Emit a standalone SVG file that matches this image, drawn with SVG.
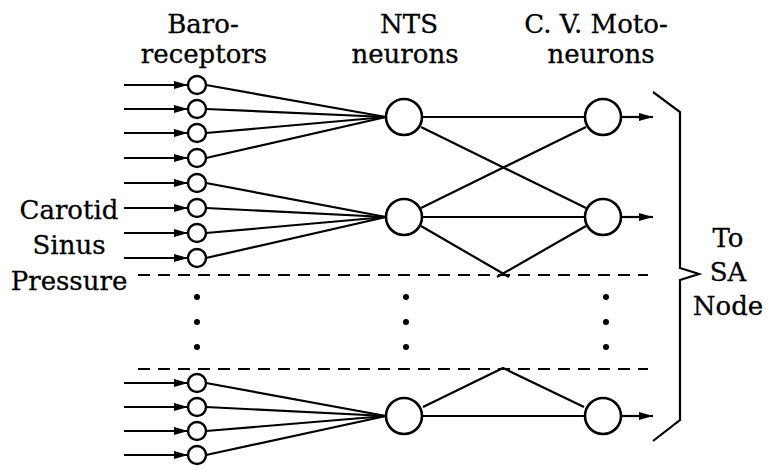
<svg xmlns="http://www.w3.org/2000/svg" width="771" height="470" viewBox="0 0 771 470">
  <defs>
    <marker id="arrow" markerWidth="14" markerHeight="10" refX="14" refY="5" orient="auto" markerUnits="userSpaceOnUse">
      <path d="M0,1 L14,5 L0,9 Z" fill="#000"/>
    </marker>
    <style>
      .lbl { font-family: "DejaVu Serif", "Liberation Serif", "Times New Roman", serif; font-size: 26px; fill: #000; stroke: #000; stroke-width: 0.3; text-anchor: middle; }
      .wire { stroke: #000; stroke-width: 2.2; fill: none; }
      .in { stroke: #000; stroke-width: 2.2; fill: none; marker-end: url(#arrow); }
      .cell { stroke: #000; stroke-width: 2.6; fill: #fff; }
      .rec { stroke: #000; stroke-width: 2.4; fill: #fff; }
      .dash { stroke: #000; stroke-width: 2.2; stroke-dasharray: 12 8; fill: none; }
      .dot { fill: #000; }
    </style>
  </defs>
  <rect width="771" height="470" fill="#fff"/>

  <!-- column headings -->
  <g id="headings">
    <text class="lbl" x="203" y="33">Baro-</text>
    <text class="lbl" x="204" y="63">receptors</text>
    <text class="lbl" x="409" y="33">NTS</text>
    <text class="lbl" x="405" y="63">neurons</text>
    <text class="lbl" x="596" y="33">C. V. Moto-</text>
    <text class="lbl" x="601" y="63">neurons</text>
  </g>

  <g id="input-label">
    <text class="lbl" x="69" y="219">Carotid</text>
    <text class="lbl" x="69" y="254">Sinus</text>
    <text class="lbl" x="69" y="290">Pressure</text>
  </g>

  <g id="output-label">
    <text class="lbl" x="728" y="247">To</text>
    <text class="lbl" x="728" y="281">SA</text>
    <text class="lbl" x="728" y="315">Node</text>
  </g>

  <!-- connectors -->
  <g id="connectors">
    <!-- pressure inputs to baroreceptors -->
    <line class="in" x1="124" y1="85" x2="188" y2="85"/>
    <line class="in" x1="124" y1="109" x2="188" y2="109"/>
    <line class="in" x1="124" y1="133" x2="188" y2="133"/>
    <line class="in" x1="124" y1="158" x2="188" y2="158"/>
    <line class="in" x1="124" y1="183" x2="188" y2="183"/>
    <line class="in" x1="124" y1="208" x2="188" y2="208"/>
    <line class="in" x1="124" y1="233" x2="188" y2="233"/>
    <line class="in" x1="124" y1="258" x2="188" y2="258"/>
    <line class="in" x1="124" y1="383" x2="188" y2="383"/>
    <line class="in" x1="124" y1="407" x2="188" y2="407"/>
    <line class="in" x1="124" y1="431" x2="188" y2="431"/>
    <line class="in" x1="124" y1="455" x2="188" y2="455"/>

    <!-- baroreceptors converging on NTS neurons -->
    <line class="wire" x1="206" y1="85" x2="386" y2="117"/>
    <line class="wire" x1="206" y1="109" x2="386" y2="117"/>
    <line class="wire" x1="206" y1="133" x2="386" y2="117"/>
    <line class="wire" x1="206" y1="158" x2="386" y2="117"/>
    <line class="wire" x1="206" y1="183" x2="386" y2="217"/>
    <line class="wire" x1="206" y1="208" x2="386" y2="217"/>
    <line class="wire" x1="206" y1="233" x2="386" y2="217"/>
    <line class="wire" x1="206" y1="258" x2="386" y2="217"/>
    <line class="wire" x1="206" y1="383" x2="386" y2="416"/>
    <line class="wire" x1="206" y1="407" x2="386" y2="416"/>
    <line class="wire" x1="206" y1="431" x2="386" y2="416"/>
    <line class="wire" x1="206" y1="455" x2="386" y2="416"/>

    <!-- NTS to motoneurons -->
    <line class="wire" x1="422" y1="117" x2="584" y2="117"/>
    <line class="wire" x1="422" y1="217" x2="584" y2="217"/>
    <line class="wire" x1="422" y1="416" x2="584" y2="416"/>
    <line class="wire" x1="421" y1="127" x2="586" y2="208"/>
    <line class="wire" x1="421" y1="208" x2="586" y2="127"/>
    <line class="wire" x1="421" y1="226" x2="509" y2="277"/>
    <line class="wire" x1="586" y1="226" x2="497" y2="277"/>
    <polyline class="wire" points="423,407 503,368 584,407"/>

    <!-- motoneuron outputs -->
    <line class="in" x1="622" y1="117" x2="653" y2="117"/>
    <line class="in" x1="622" y1="217" x2="653" y2="217"/>
    <line class="in" x1="622" y1="416" x2="653" y2="416"/>

    <!-- section dividers -->
    <line class="dash" x1="138" y1="275" x2="648" y2="275"/>
    <line class="dash" x1="138" y1="369" x2="648" y2="369"/>

    <!-- brace -->
    <path class="wire" stroke-width="2.6" d="M653,92 L680,112 L680,268 L699,274 L680,280 L680,420 L653,441"/>
  </g>

  <!-- baroreceptors -->
  <g id="baroreceptors">
    <circle class="rec" cx="197" cy="85" r="9"/>
    <circle class="rec" cx="197" cy="109" r="9"/>
    <circle class="rec" cx="197" cy="133" r="9"/>
    <circle class="rec" cx="197" cy="158" r="9"/>
    <circle class="rec" cx="197" cy="183" r="9"/>
    <circle class="rec" cx="197" cy="208" r="9"/>
    <circle class="rec" cx="197" cy="233" r="9"/>
    <circle class="rec" cx="197" cy="258" r="9"/>
    <circle class="rec" cx="197" cy="383" r="9"/>
    <circle class="rec" cx="197" cy="407" r="9"/>
    <circle class="rec" cx="197" cy="431" r="9"/>
    <circle class="rec" cx="197" cy="455" r="9"/>
  </g>

  <g id="nts-neurons">
    <circle class="cell" cx="404" cy="117" r="18"/>
    <circle class="cell" cx="404" cy="217" r="18"/>
    <circle class="cell" cx="404" cy="416" r="18"/>
  </g>

  <g id="motoneurons">
    <circle class="cell" cx="603" cy="117" r="18"/>
    <circle class="cell" cx="603" cy="217" r="18"/>
    <circle class="cell" cx="603" cy="416" r="18"/>
  </g>

  <!-- ellipsis dots -->
  <g id="ellipsis">
    <circle class="dot" cx="197" cy="297" r="3"/>
    <circle class="dot" cx="197" cy="322" r="3"/>
    <circle class="dot" cx="197" cy="347" r="3"/>
    <circle class="dot" cx="406" cy="297" r="3"/>
    <circle class="dot" cx="406" cy="322" r="3"/>
    <circle class="dot" cx="406" cy="347" r="3"/>
    <circle class="dot" cx="606" cy="297" r="3"/>
    <circle class="dot" cx="606" cy="322" r="3"/>
    <circle class="dot" cx="606" cy="347" r="3"/>
  </g>
</svg>
